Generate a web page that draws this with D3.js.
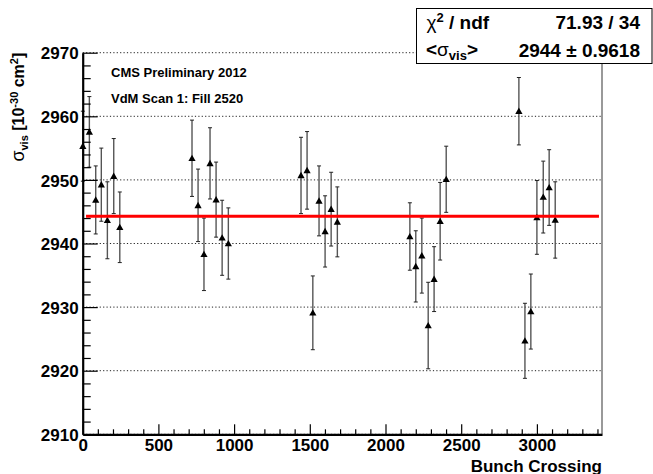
<!DOCTYPE html>
<html><head><meta charset="utf-8">
<script src="https://cdn.jsdelivr.net/npm/d3@7"></script>
<style>
body{margin:0;background:#fff}
text{font-family:"Liberation Sans",Arial,Helvetica,sans-serif;font-weight:bold;fill:#000}
</style>
</head><body><svg id="c" width="653" height="474"></svg>
<script>
// ---- data ----
const bunchCrossing = [1, 44, 86, 123, 163, 205, 245,
  722, 762, 801, 841, 881, 921, 962,
  1442, 1482, 1520, 1561, 1601, 1641, 1682,
  2161, 2200, 2240, 2282, 2321, 2361, 2401,
  2881, 2921, 2960, 3000, 3042, 3081, 3121];
const sigmaVis = [2955.3, 2957.55, 2946.85, 2949.25, 2943.65, 2950.6, 2942.55,
  2953.4, 2946.0, 2938.3, 2952.6, 2946.9, 2940.9, 2940.0,
  2950.7, 2951.5, 2929.1, 2946.7, 2941.9, 2945.4, 2943.4,
  2941.1, 2936.4, 2938.1, 2927.1, 2934.4, 2943.5, 2950.1,
  2960.8, 2924.7, 2929.3, 2944.1, 2947.3, 2948.8, 2943.7];
const sigmaErr = [5.5, 5.55, 5.35, 5.75, 6.05, 5.9, 5.55,
  6.0, 5.7, 5.7, 5.6, 5.9, 5.9, 5.6,
  6.0, 6.1, 5.8, 5.5, 5.6, 5.8, 5.5,
  5.3, 5.6, 5.9, 6.8, 5.1, 6.1, 5.2,
  5.3, 5.9, 5.9, 5.8, 5.65, 5.95, 6.0];
const fitValue = 2944.3;
const fitRange = [22, 3410];
const xDomain = [0, 3430];
const yDomain = [2910, 2970];
const xTicks = [0, 500, 1000, 1500, 2000, 2500, 3000];
const xMinorTicks = d3.range(100, 3430, 100).filter(v => v % 500 !== 0);
const yTicks = [2910, 2920, 2930, 2940, 2950, 2960, 2970];
const yMinorTicks = d3.range(2912, 2970, 2).filter(v => v % 10 !== 0);
const statValues = ["71.93 / 34", "2944 \u00b1 0.9618"];
const labelLines = ["CMS Preliminary 2012", "VdM Scan 1: Fill 2520"];
const xTitle = "Bunch Crossing";

// ---- layout ----
const L = 82.7, R = 602, T = 52.7, B = 434.3;
const svg = d3.select("#c");
const x = d3.scaleLinear().domain(xDomain).range([L, R]);
const y = d3.scaleLinear().domain(yDomain).range([B, T]);

// grid
svg.append("g").selectAll("line").data(yTicks).join("line")
  .attr("x1", L).attr("x2", R).attr("y1", d => y(d)).attr("y2", d => y(d))
  .attr("stroke", "#222").attr("stroke-width", 1).attr("stroke-dasharray", "1.2,2.2");

// right frame
svg.append("line").attr("x1", R).attr("x2", R).attr("y1", T).attr("y2", B)
  .attr("stroke", "#777").attr("stroke-width", 1.5);

// error bars
const pts = bunchCrossing.map((b, i) => ({b, v: sigmaVis[i], e: sigmaErr[i]}));
const gE = svg.append("g");
gE.selectAll("line.bar").data(pts).join("line").attr("class", "bar")
  .attr("x1", d => x(d.b)).attr("x2", d => x(d.b))
  .attr("y1", d => y(d.v + d.e)).attr("y2", d => y(d.v - d.e))
  .attr("stroke", "#555").attr("stroke-width", 1.4);
["top", "bot"].forEach(k => {
  gE.selectAll("line.c" + k).data(pts).join("line").attr("class", "c" + k)
    .attr("x1", d => x(d.b) - 2).attr("x2", d => x(d.b) + 2)
    .attr("y1", d => y(k === "top" ? d.v + d.e : d.v - d.e))
    .attr("y2", d => y(k === "top" ? d.v + d.e : d.v - d.e))
    .attr("stroke", "#222").attr("stroke-width", 1);
});
// markers
svg.append("g").selectAll("path").data(pts).join("path")
  .attr("transform", d => `translate(${x(d.b)},${y(d.v)})`)
  .attr("d", "M0,-3.6L3.6,2.8L-3.6,2.8Z").attr("fill", "#000");

// fit line
svg.append("line").attr("x1", x(fitRange[0])).attr("x2", x(fitRange[1]))
  .attr("y1", y(fitValue)).attr("y2", y(fitValue))
  .attr("stroke", "#ff0000").attr("stroke-width", 3);

// axes
const fs = "17px";
const ax = svg.append("g").attr("transform", `translate(0,${B})`)
  .call(d3.axisBottom(x).tickValues(xTicks).tickSize(-10).tickSizeOuter(0).tickPadding(5).tickFormat(d3.format("d")));
svg.append("g").attr("transform", `translate(0,${B})`)
  .call(d3.axisBottom(x).tickValues(xMinorTicks).tickSize(-5).tickSizeOuter(0).tickFormat(""))
  .select(".domain").remove();
const ay = svg.append("g").attr("transform", `translate(${L},0)`)
  .call(d3.axisLeft(y).tickValues(yTicks).tickSize(-15).tickSizeOuter(0).tickPadding(4).tickFormat(d3.format("d")));
svg.append("g").attr("transform", `translate(${L},0)`)
  .call(d3.axisLeft(y).tickValues(yMinorTicks).tickSize(-8).tickSizeOuter(0).tickFormat(""))
  .select(".domain").remove();
svg.selectAll(".tick line").attr("stroke", "#000").attr("stroke-width", 1.2);
[ax, ay].forEach(a => {
  a.select(".domain").attr("stroke", "#000").attr("stroke-width", 2.2);
  a.selectAll("text").style("font-size", fs).style("font-family", '"Liberation Sans",Arial,sans-serif')
    .style("font-weight", "bold").attr("fill", "#000");
});
ay.selectAll("text").attr("dy", "0.36em");

// x title
svg.append("text").attr("x", R).attr("y", 471.5).attr("text-anchor", "end")
  .style("font-size", "17px").text(xTitle);

// y title
const yt = svg.append("text").attr("transform", `translate(23.5,${T}) rotate(-90)`)
  .attr("text-anchor", "end").style("font-size", "16px");
yt.append("tspan").style("font-weight", "normal").style("font-size", "18px").text("\u03c3");
yt.append("tspan").attr("dy", 4).style("font-size", "11px").text("vis");
yt.append("tspan").attr("dy", -4).text(" [10");
yt.append("tspan").attr("dy", -6).style("font-size", "11px").text("-30");
yt.append("tspan").attr("dy", 6).text(" cm");
yt.append("tspan").attr("dy", -6).style("font-size", "11px").text("2");
yt.append("tspan").attr("dy", 6).text("]");

// labels
svg.append("g").selectAll("text").data(labelLines).join("text")
  .attr("x", 111).attr("y", (d, i) => 77.3 + i * 26).style("font-size", "13px").text(d => d);

// stats box
svg.append("rect").attr("x", 416.5).attr("y", 8.5).attr("width", 235.5).attr("height", 55)
  .attr("fill", "#fff").attr("stroke", "#000").attr("stroke-width", 1);
const s1 = svg.append("text").attr("x", 426.5).attr("y", 29.3).style("font-size", "19px");
s1.append("tspan").style("font-weight", "normal").text("\u03c7");
s1.append("tspan").attr("dy", -7).style("font-size", "13px").text("2");
s1.append("tspan").attr("dy", 7).text(" / ndf");
const s2 = svg.append("text").attr("x", 426).attr("y", 55.5).style("font-size", "19px");
s2.append("tspan").text("<");
s2.append("tspan").style("font-weight", "normal").text("\u03c3");
s2.append("tspan").attr("dy", 4).style("font-size", "13px").text("vis");
s2.append("tspan").attr("dy", -4).text(">");
svg.append("g").selectAll("text").data(statValues).join("text")
  .attr("x", 640).attr("y", (d, i) => i === 0 ? 29.3 : 56.7).attr("text-anchor", "end")
  .style("font-size", "19px").text(d => d);
</script></body></html>
